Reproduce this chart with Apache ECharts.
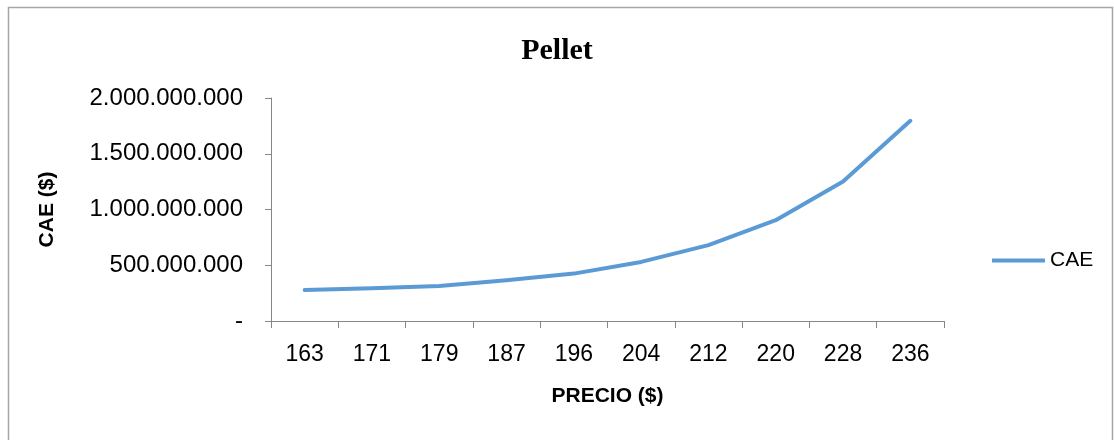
<!DOCTYPE html>
<html>
<head>
<meta charset="utf-8">
<script src="https://cdn.jsdelivr.net/npm/echarts@6/dist/echarts.min.js"></script>
<style>html,body{margin:0;padding:0;background:#fff;}#c{width:1114px;height:440px;}</style>
</head>
<body>
<div id="c"></div>
<script>
const categories = ['163','171','179','187','196','204','212','220','228','236'];
const caeValues = [278000000, 293000000, 314000000, 365000000, 425000000, 530000000, 680000000, 904000000, 1251000000, 1796000000];
const yTicks = [0, 500000000, 1000000000, 1500000000, 2000000000];

function fmt(v){
  if (v === 0) return '-';
  return String(Math.round(v)).replace(/\B(?=(\d{3})+(?!\d))/g, '.');
}

const chart = echarts.init(document.getElementById('c'), null, {renderer:'canvas'});
chart.setOption({
  animation:false,
  backgroundColor:'#fff',
  graphic:[{type:'rect', shape:{x:8.5,y:7.5,width:1104,height:440}, style:{fill:'none',stroke:'#a6a6a6',lineWidth:1.5}, silent:true}],
  title:{text:'Pellet', left:'center', top:31, textStyle:{fontFamily:'Liberation Serif', fontWeight:'bold', fontSize:30, color:'#000'}},
  legend:{left:987, top:245, icon:'rect', itemWidth:53, itemHeight:4, itemGap:5,
    textStyle:{fontFamily:'Liberation Sans', fontSize:21, color:'#000'}, data:['CAE']},
  grid:{left:271, right:170, top:98, bottom:119},
  xAxis:{type:'category', data:categories, boundaryGap:true,
    name:'PRECIO ($)', nameLocation:'middle', nameGap:65,
    nameTextStyle:{fontFamily:'Liberation Sans', fontWeight:'bold', fontSize:21, color:'#000'},
    axisLine:{lineStyle:{color:'#868686', width:1}},
    axisTick:{show:true, alignWithLabel:false, length:7, lineStyle:{color:'#868686'}},
    axisLabel:{margin:22, fontFamily:'Liberation Sans', fontSize:23, color:'#000', interval:0}},
  yAxis:{type:'value', min:0, max:2000000000, interval:500000000,
    name:'CAE ($)', nameLocation:'middle', nameGap:213,
    nameTextStyle:{fontFamily:'Liberation Sans', fontWeight:'bold', fontSize:21, color:'#000'},
    axisLine:{show:true, lineStyle:{color:'#868686', width:1}},
    axisTick:{show:true, length:6, lineStyle:{color:'#868686'}},
    splitLine:{show:false},
    axisLabel:{margin:28, fontFamily:'Liberation Sans', fontSize:24, color:'#000', formatter:fmt}},
  series:[{name:'CAE', type:'line', data:caeValues, symbol:'none', smooth:false,
    lineStyle:{color:'#5B9BD5', width:4, cap:'round', join:'round'}, itemStyle:{color:'#5B9BD5'}}]
});
</script>
</body>
</html>
